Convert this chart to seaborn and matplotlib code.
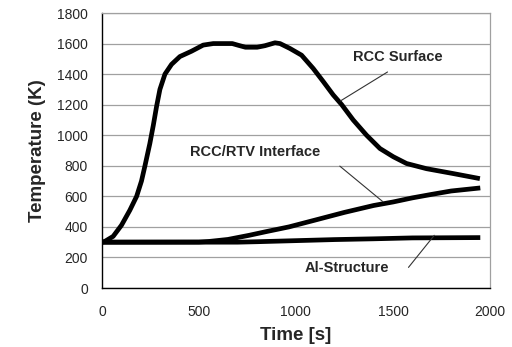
import matplotlib
matplotlib.use("Agg")
import matplotlib.pyplot as plt
import numpy as np
import pandas as pd
import seaborn as sns

# values
t_surface = [0, 15, 58, 101, 144, 179, 204, 222, 247, 265, 282, 299, 325, 359, 402, 462, 522,
             574, 672, 705, 740, 800, 840, 892, 918, 969, 1029, 1089, 1141, 1192, 1236, 1295,
             1364, 1433, 1502, 1570, 1673, 1811, 1948]
T_surface = [300, 305, 338, 411, 509, 600, 700, 800, 945, 1065, 1190, 1300, 1400, 1464, 1515,
             1550, 1590, 1600, 1600, 1588, 1576, 1576, 1586, 1605, 1600, 1568, 1524, 1437, 1351,
             1264, 1200, 1100, 1000, 913, 859, 815, 781, 749, 716]

t_interface = [0, 500, 554, 650, 759, 850, 964, 1100, 1250, 1400, 1500, 1600, 1700, 1800, 1950]
T_interface = [300, 301, 305, 318, 345, 370, 400, 445, 495, 540, 563, 590, 613, 635, 655]

t_al = [0, 700, 800, 1000, 1200, 1400, 1600, 1950]
T_al = [300, 300, 303, 310, 317, 322, 328, 330]

series_names = ["RCC Surface", "RCC/RTV Interface", "Al-Structure"]

df = pd.concat([
    pd.DataFrame({"time": t_surface, "temp": T_surface, "series": series_names[0]}),
    pd.DataFrame({"time": t_interface, "temp": T_interface, "series": series_names[1]}),
    pd.DataFrame({"time": t_al, "temp": T_al, "series": series_names[2]}),
])

sns.set_style("white")
plt.rcParams["font.family"] = ["Liberation Sans", "DejaVu Sans"]

fig = plt.figure(figsize=(5.12, 3.47), dpi=100)
ax = fig.add_axes([0.199, 0.170, 0.758, 0.7925])

sns.lineplot(data=df, x="time", y="temp", hue="series", units="series", estimator=None,
             sort=False, palette=["black"] * 3, linewidth=3.4, legend=False, ax=ax,
             solid_joinstyle="round", solid_capstyle="butt")

ax.set_xlim(0, 2000)
ax.set_ylim(0, 1800)
ax.set_xticks(np.arange(0, 2001, 500))
ax.set_yticks(np.arange(0, 1801, 200))
ax.yaxis.grid(True, color="#a0a0a0", linewidth=0.9)
ax.set_axisbelow(True)
for s in ["top", "right"]:
    ax.spines[s].set_color("#a0a0a0")
    ax.spines[s].set_linewidth(0.9)
for s in ["left", "bottom"]:
    ax.spines[s].set_color("black")
    ax.spines[s].set_linewidth(1.0)
ax.tick_params(axis="both", direction="out", length=4, width=1, color="black",
               labelsize=10, pad=6)
ax.tick_params(axis="x", pad=8)

ax.set_xlabel("Time [s]", fontsize=13.5, fontweight="bold", labelpad=6)
ax.set_ylabel("Temperature (K)", fontsize=13.5, fontweight="bold", labelpad=8)

# labels with leader lines
lab_kw = dict(fontsize=10.5, fontweight="bold", ha="center", va="center")
ax.text(1523, 1512, series_names[0], **lab_kw)
ax.plot([1472, 1230], [1414, 1225], color="#333333", linewidth=0.8)
ax.text(790, 890, series_names[1], **lab_kw)
ax.plot([1226, 1448], [798, 565], color="#333333", linewidth=0.8)
ax.text(1265, 131, series_names[2], **lab_kw)
ax.plot([1580, 1713], [135, 345], color="#333333", linewidth=0.8)

fig.savefig("out.png", dpi=100)
